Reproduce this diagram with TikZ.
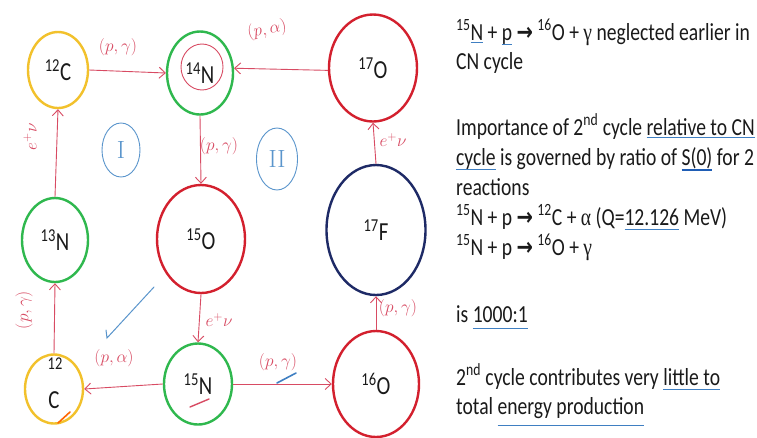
\documentclass[tikz,border=0pt]{standalone}
\usepackage[no-math]{fontspec}
\setmainfont[FakeStretch=0.8]{Carlito}
\newfontfamily\symfont[FakeStretch=0.8]{Liberation Serif}
\newfontfamily\arrfont[FakeStretch=0.8]{DejaVu Sans}
\usetikzlibrary{shapes.geometric,arrows.meta}
\definecolor{cyellow}{HTML}{F2C12C}
\definecolor{cgreen}{HTML}{2FB84E}
\definecolor{cred}{HTML}{D3202E}
\definecolor{cnavy}{HTML}{1E2A66}
\definecolor{arrc}{HTML}{D84B63}
\definecolor{annblue}{HTML}{5A95CC}
\definecolor{ulblue}{HTML}{3F7FC2}
\definecolor{uldark}{HTML}{1F5DB5}
\definecolor{textc}{HTML}{1A1A1A}
\newsavebox\ulbox
\newcommand\bul[2][4pt]{\sbox\ulbox{#2}\rlap{\color{ulblue}\rule[-#1]{\wd\ulbox}{1.1pt}}\usebox\ulbox}
\newcommand\bulS[2][6pt]{\sbox\ulbox{#2}\rlap{\color{uldark}\rule[-#1]{\wd\ulbox}{2pt}}\usebox\ulbox}
\newcommand\sups[1]{\textsuperscript{#1}}
\newcommand\rarr{{\arrfont\bfseries →}}
\newcommand\gam{{\symfont γ}}
\newcommand\alp{{\symfont α}}
\begin{document}
\begin{tikzpicture}[x=1pt,y=-1pt,
  nuc/.style={ellipse, draw, line width=2.4pt, inner sep=0pt, text=textc,
    font=\fontsize{26}{30}\selectfont},
  flow/.style={draw=arrc, line width=0.9pt, -{Straight Barb[length=6pt,width=11pt]}},
  rxn/.style={text=arrc, font=\fontsize{18}{18}\selectfont, inner sep=1pt},
  roman/.style={ellipse, draw=annblue, line width=0.9pt, text=annblue, inner sep=0pt,
    font=\fontsize{30}{30}\selectfont},
  txt/.style={anchor=base west, inner sep=0pt, text=textc, font=\fontsize{24.5}{29}\selectfont},
  scrib/.style={line width=1pt, line cap=round}
]
\useasboundingbox (0,0) rectangle (757,437);
\fill[white] (0,0) rectangle (757,437);

% nuclei
\node[nuc, draw=cyellow, minimum width=60pt, minimum height=76pt] (c12t) at (58,70) {\sups{12}C};
\node[nuc, draw=cgreen, minimum width=66pt, minimum height=83pt] (n14) at (200,73) {\sups{14}N};
\node[nuc, draw=cred, minimum width=88pt, minimum height=107pt] (o17) at (373,68) {\sups{17}O};
\node[nuc, draw=cgreen, minimum width=66pt, minimum height=84pt] (n13) at (55,240) {\sups{13}N};
\node[nuc, draw=cred, minimum width=88pt, minimum height=108pt] (o15) at (201,239) {\sups{15}O};
\node[nuc, draw=cnavy, minimum width=99pt, minimum height=130pt] (f17) at (376,230) {\sups{17}F};
\node[nuc, draw=cyellow, minimum width=58pt, minimum height=69pt] (c12b) at (54,389) {};
\node[text=textc, font=\fontsize{18}{18}\selectfont, inner sep=0pt] (c12bn) at (55,364) {12};
\node[text=textc, font=\fontsize{26}{30}\selectfont, inner sep=0pt] (c12bc) at (54,400) {C};
\node[nuc, draw=cgreen, minimum width=68pt, minimum height=81pt] (n15) at (198,384) {\sups{15}N};
\node[nuc, draw=cred, minimum width=86pt, minimum height=106pt] (o16) at (376,384) {\sups{16}O};

% connectors
\draw[flow] (c12t.east) -- (n14.west);
\draw[flow] (o17.183) -- (n14.8);
\draw[flow] (n14.south) -- (o15.north);
\draw[flow] (o15.south) -- (n15.north);
\draw[flow] (n15.west) -- (c12b.east);
\draw[flow] (n15.east) -- (o16.west);
\draw[flow] (o16.north) -- (f17.south);
\draw[flow] (f17.north) -- (o17.south);
\draw[flow] (c12b.north) -- (n13.south);
\draw[flow] (n13.north) -- (c12t.south);

% reaction labels
\node[rxn] (l1) at (118,47) {$(p,\gamma)$};
\node[rxn, rotate=10] (l2) at (267,30) {$(p,\alpha)$};
\node[rxn] (l3) at (219,146) {$(p,\gamma)$};
\node[rxn, rotate=90] (l4) at (30,137) {$e^{+}\nu$};
\node[rxn] (l5) at (393,140) {$e^{+}\nu$};
\node[rxn, rotate=90] (l6) at (24,310) {$(p,\gamma)$};
\node[rxn] (l7) at (219,320) {$e^{+}\nu$};
\node[rxn] (l8) at (114,358) {$(p,\alpha)$};
\node[rxn] (l9) at (278,362) {$(p,\gamma)$};
\node[rxn] (l10) at (398,308) {$(p,\gamma)$};

% cycle numbers
\node[roman, minimum width=38pt, minimum height=54pt] (cyc1) at (121,150) {$\mathrm{I}$};
\node[roman, minimum width=41pt, minimum height=62pt] (cyc2) at (277,159) {$\mathrm{II}$};

% annotations
\draw[arrc, line width=0.9pt] (202,67) ellipse [x radius=21pt, y radius=23pt];
\draw[annblue, scrib] (154,287) -- (107,338) -- (106,330);
\draw[ulblue, scrib, line width=1.6pt] (277,383) -- (296,373);
\draw[arrc, scrib, line width=1.4pt] (190,407) -- (209,399);
\draw[orange!80!red, scrib, line width=1.6pt] (58,423) -- (70,412);

% text
\node[txt] (t1) at (456,40) {\sups{15}\bul[3pt]{N} + \bul[5pt]{p} \rarr{} \sups{16}O + \gam{} neglected earlier in};
\node[txt] (t2) at (456,69) {CN cycle};
\node[txt] (t3) at (456,135) {Importance of 2\sups{nd} cycle \bul[3pt]{relative to CN}};
\node[txt] (t4) at (456,165) {\bul[5pt]{cycle} is governed by ratio of \bulS{S(0)} for 2};
\node[txt] (t5) at (456,195) {reactions};
\node[txt] (t6) at (456,225) {\sups{15}N + p \rarr{} \sups{12}C + \alp{} (Q=\bul[5pt]{12.126} MeV)};
\node[txt] (t7) at (456,255) {\sups{15}N + p \rarr{} \sups{16}O + \gam};
\node[txt] (t8) at (456,322) {is \bul[7pt]{1000:1}};
\node[txt] (t9) at (456,385) {2\sups{nd} cycle contributes very \bul[5pt]{little to}};
\node[txt] (t10) at (456,414) {total \bul[12pt]{energy production}};
\end{tikzpicture}
\end{document}
